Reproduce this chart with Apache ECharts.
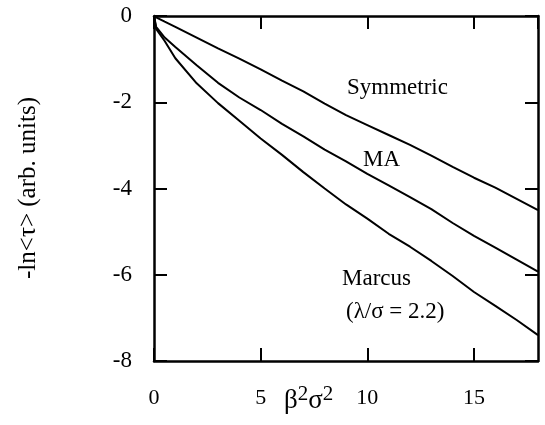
<!DOCTYPE html>
<html>
<head>
<meta charset="utf-8">
<script src="https://cdn.jsdelivr.net/npm/echarts@6/dist/echarts.min.js"></script>
<style>
  html, body { margin: 0; padding: 0; background: #fff; }
  #chart { width: 545px; height: 425px; }
</style>
</head>
<body>
<div id="chart"></div>
<script>
// x values (beta^2 sigma^2)
const xs = [0, 0.1, 0.5, 1, 2, 3, 4, 5, 6, 7, 8, 9, 10, 11, 12, 13, 14, 15, 16, 17, 18]

// -ln<tau> for each model
const symmetric = [0, -0.03, -0.13, -0.25, -0.5, -0.75, -0.99, -1.24, -1.5, -1.75, -2.03, -2.3, -2.53, -2.76, -2.99, -3.24, -3.5, -3.75, -3.98, -4.24, -4.5]
const ma = [0, -0.25, -0.5, -0.72, -1.14, -1.55, -1.89, -2.18, -2.5, -2.79, -3.1, -3.37, -3.66, -3.93, -4.2, -4.48, -4.8, -5.1, -5.37, -5.65, -5.93]
const marcus = [0, -0.3, -0.58, -0.98, -1.56, -2.02, -2.43, -2.84, -3.22, -3.62, -4.0, -4.37, -4.7, -5.05, -5.35, -5.68, -6.03, -6.4, -6.72, -7.05, -7.4]

const xTicks = { min: 0, max: 18, interval: 5 }
const yTicks = { min: -8, max: 0, interval: 2 }

const FONT = '"Liberation Serif", "DejaVu Serif", serif'

const chart = echarts.init(document.getElementById('chart'))

const pairs = (ys) => xs.map((x, i) => [x, ys[i]])

const lineSeries = (name, ys) => ({
  name,
  type: 'line',
  data: pairs(ys),
  showSymbol: false,
  lineStyle: { color: '#000', width: 2 },
  animation: false,
})

// every side of the box is an axis with inward ticks
const frameAxis = {
  axisLine: { show: true, onZero: false, lineStyle: { color: '#000', width: 2.5 } },
  axisTick: { show: true, inside: true, length: 13, lineStyle: { color: '#000', width: 2 } },
  splitLine: { show: false },
}

const option = {
  backgroundColor: '#fff',
  animation: false,
  grid: { left: 154, top: 16, right: 7, bottom: 64 },
  xAxis: [
    {
      type: 'value',
      ...xTicks,
      position: 'bottom',
      ...frameAxis,
      axisLabel: {
        color: '#000', fontFamily: FONT, fontSize: 22, margin: 26,
        showMaxLabel: false,
      },
    },
    {
      type: 'value',
      ...xTicks,
      position: 'top',
      ...frameAxis,
      axisLabel: { show: false },
    },
  ],
  yAxis: [
    {
      type: 'value',
      ...yTicks,
      position: 'left',
      ...frameAxis,
      axisLabel: { color: '#000', fontFamily: FONT, fontSize: 23, margin: 22 },
    },
    {
      type: 'value',
      ...yTicks,
      position: 'right',
      ...frameAxis,
      axisLabel: { show: false },
    },
  ],
  series: [
    lineSeries('Symmetric', symmetric),
    lineSeries('MA', ma),
    lineSeries('Marcus', marcus),
  ],
  graphic: [
    {
      type: 'text', left: 347, top: 76,
      style: { text: 'Symmetric', font: '23px ' + FONT, fill: '#000' },
    },
    {
      type: 'text', left: 363, top: 148,
      style: { text: 'MA', font: '23px ' + FONT, fill: '#000' },
    },
    {
      type: 'text', left: 342, top: 267,
      style: { text: 'Marcus', font: '23px ' + FONT, fill: '#000' },
    },
    {
      type: 'text', left: 346, top: 300,
      style: { text: '(λ/σ = 2.2)', font: '23px ' + FONT, fill: '#000' },
    },
    {
      type: 'text', left: 284, top: 384,
      style: {
        text: '{b|β}{s|2}{b|σ}{s|2}',
        rich: {
          b: { fontFamily: FONT, fontSize: 27, fill: '#000', verticalAlign: 'bottom' },
          s: { fontFamily: FONT, fontSize: 21, fill: '#000', verticalAlign: 'top', padding: [0, 0, 9, 0] },
        },
      },
    },
    {
      type: 'text', x: 28, y: 188, rotation: Math.PI / 2,
      style: {
        text: '-ln<τ> (arb. units)', font: '25px ' + FONT, fill: '#000',
        align: 'center', verticalAlign: 'middle',
      },
    },
  ],
}

chart.setOption(option)
</script>
</body>
</html>
